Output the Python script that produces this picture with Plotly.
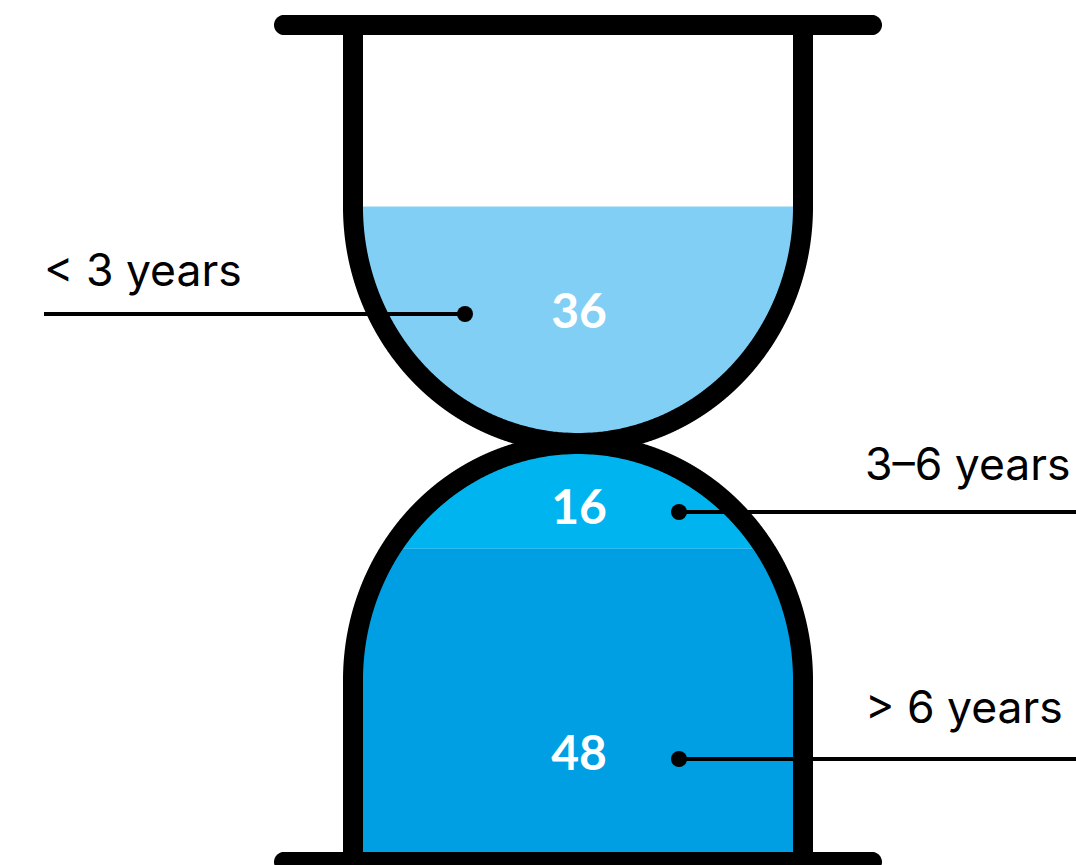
import numpy as np
import plotly.graph_objects as go

# Share of respondents per tenure band
categories = ["< 3 years", "3–6 years", "> 6 years"]
values = [36, 16, 48]

WIDTH, HEIGHT = 1076, 865
CX = 578            # vertical axis of the hourglass
WALL = 20           # glass outline thickness
HALF = 225          # centre-line half width of the glass
RIM_Y = (25, 862)   # centre lines of the two end bars
RIM_HALF = 304
TOP_SHOULDER, BOTTOM_SHOULDER = 207, 680
BULGE = 236         # vertical radius of the rounded bulbs
UNIT = 6.32         # pixels of sand height per percentage point
FLOOR_UPPER = 434   # lowest point inside the upper bulb
FLOOR_LOWER = 852   # base inside the lower bulb
CEILING_LOWER = 453 # highest point inside the lower bulb

COLORS = ["#82CFF6", "#00B5EF", "#009FE3"]


def half_width_upper(y, inset=0.0):
    """Half width of the upper bulb at height y."""
    rx, ry = HALF - inset, BULGE - inset
    t = np.clip((y - TOP_SHOULDER) / ry, 0, 1)
    return rx * np.sqrt(1 - t ** 2)


def half_width_lower(y, inset=0.0):
    """Half width of the lower bulb at height y."""
    rx, ry = HALF - inset, BULGE - inset
    t = np.clip((BOTTOM_SHOULDER - y) / ry, 0, 1)
    return rx * np.sqrt(1 - t ** 2)


def band(y_top, y_bottom, width_fn):
    ys = np.linspace(y_top, y_bottom, 240)
    hw = width_fn(ys, WALL / 2 - 1)
    xs = np.concatenate([CX - hw, (CX + hw)[::-1]])
    return xs, np.concatenate([ys, ys[::-1]])


def rounded_bar(yc):
    r = WALL / 2
    a = np.linspace(np.pi / 2, 3 * np.pi / 2, 24)
    xs = np.concatenate([CX - RIM_HALF + r + r * np.cos(a),
                         CX + RIM_HALF - r - r * np.cos(a)])
    ys = np.concatenate([yc - r * np.sin(a), yc + r * np.sin(a)])
    return xs, ys


fig = go.Figure()

# Sand: heights follow the stated shares
upper_level = FLOOR_UPPER - values[0] * UNIT
boundary = FLOOR_LOWER - values[2] * UNIT
middle_level = max(boundary - values[1] * UNIT, CEILING_LOWER - 2)

segments = [
    band(upper_level, FLOOR_UPPER, half_width_upper),
    band(middle_level, boundary, half_width_lower),
    band(boundary, FLOOR_LOWER, half_width_lower),
]
for (xs, ys), color, name in zip(segments, COLORS, categories):
    fig.add_trace(go.Scatter(x=xs, y=ys, mode="lines", fill="toself", fillcolor=color,
                             line=dict(width=0, simplify=False), name=name))

# Glass outline, one stroke per side
ys_glass = np.linspace(RIM_Y[0], RIM_Y[1], 1400)
hw_glass = np.where(ys_glass < (TOP_SHOULDER + BOTTOM_SHOULDER) / 2,
                    half_width_upper(ys_glass), half_width_lower(ys_glass))
for side in (-1, 1):
    fig.add_trace(go.Scatter(x=CX + side * hw_glass, y=ys_glass, mode="lines",
                             line=dict(color="#000000", width=WALL, simplify=False)))

# End bars with rounded caps
for yc in RIM_Y:
    xs, ys = rounded_bar(yc)
    fig.add_trace(go.Scatter(x=xs, y=ys, mode="lines", fill="toself", fillcolor="#000000",
                             line=dict(width=0, simplify=False)))

# Leader lines with their dots
leaders = [((44, 465), 314), ((679, 1076), 512), ((679, 1076), 759)]
for (x0, x1), y in leaders:
    fig.add_trace(go.Scatter(x=[x0, x1], y=[y, y], mode="lines",
                             line=dict(color="#000000", width=4)))
dots_x = [465, 679, 679]
fig.add_trace(go.Scatter(x=dots_x, y=[l[1] for l in leaders], mode="markers",
                         marker=dict(color="#000000", size=16)))

# Category captions above the leaders
fig.add_trace(go.Scatter(x=[44, 865, 865], y=[275, 469, 712], mode="text",
                         text=categories, textposition="middle right",
                         textfont=dict(family="Inter", size=44.5, color="#000000")))

# Percentages inside the sand
fig.add_trace(go.Scatter(x=[579, 579, 579], y=[316, 512, 758], mode="text",
                         text=[str(v) for v in values], textposition="middle center",
                         textfont=dict(family="Lato", size=48, color="#FFFFFF", weight="bold")))

fig.update_layout(
    width=WIDTH, height=HEIGHT,
    margin=dict(l=0, r=0, t=0, b=0),
    paper_bgcolor="#FFFFFF", plot_bgcolor="#FFFFFF",
    showlegend=False, hovermode=False,
    xaxis=dict(range=[0, WIDTH], visible=False, fixedrange=True),
    yaxis=dict(range=[HEIGHT, 0], visible=False, fixedrange=True),
)
fig.write_html("out.html", config={"displayModeBar": False})
